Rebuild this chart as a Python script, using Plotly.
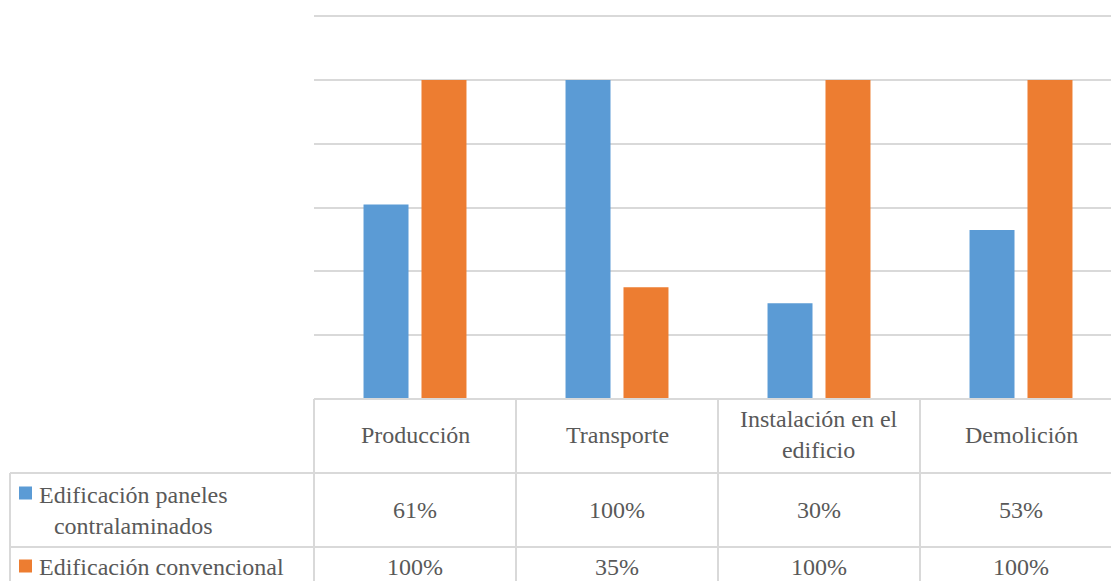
import plotly.graph_objects as go

categories = ["Producción", "Transporte", "Instalación en el<br>edificio", "Demolición"]
series_names = ["Edificación paneles<br>contralaminados", "Edificación convencional"]
paneles = [61, 100, 30, 53]
convencional = [100, 35, 100, 100]
colors = ["#5B9BD5", "#ED7D31"]

W, H = 1111, 581
L, B = 314, 182
YMAX_DATA = 120
YTOP = 121  # small headroom so the 120% gridline is drawn
px_per_unit = (H - B - 16) / YMAX_DATA
T = int(round(16 - (YTOP - YMAX_DATA) * px_per_unit))
plot_w = W - L
plot_h = H - T - B
cat_px = 202  # pixel width of one category column

FONT = "Liberation Serif"
TXT = "#595959"
GRID = "#D9D9D9"

def px_x(px):
    return (px - L) / plot_w

def px_y(py):
    return (H - B - py) / plot_h

def cat_edge_px(i):
    return L + i * cat_px

fig = go.Figure()
for name, vals, c in zip(series_names, [paneles, convencional], colors):
    fig.add_trace(go.Bar(x=list(range(len(categories))), y=vals, name=name,
                         marker=dict(color=c, line=dict(width=0)), showlegend=False))

xmax = -0.5 + plot_w / cat_px
fig.update_layout(
    width=W, height=H,
    margin=dict(l=L, r=0, t=T, b=B),
    paper_bgcolor="white", plot_bgcolor="white",
    barmode="group", bargap=0.426, bargroupgap=0.224,
    xaxis=dict(range=[-0.5, xmax], showticklabels=False, showgrid=False,
               zeroline=False, showline=False, ticks=""),
    yaxis=dict(range=[0, YTOP], tick0=0, dtick=20, showticklabels=False, showgrid=True,
               gridcolor=GRID, gridwidth=1.5, zeroline=False, showline=False, ticks=""),
    font=dict(family=FONT, color=TXT, size=24),
)

shapes = []
ann = []
lw = 2
row1_top, row2_top, bottom = 473, 547, 590
shapes.append(dict(type="line", xref="paper", yref="paper", x0=0, x1=1, y0=px_y(399), y1=px_y(399),
                   line=dict(color=GRID, width=lw)))
for yy in [row1_top, row2_top]:
    shapes.append(dict(type="line", xref="paper", yref="paper", x0=px_x(10), x1=1, y0=px_y(yy), y1=px_y(yy),
                       line=dict(color=GRID, width=lw)))
shapes.append(dict(type="line", xref="paper", yref="paper", x0=px_x(10), x1=px_x(10),
                   y0=px_y(row1_top), y1=px_y(bottom), line=dict(color=GRID, width=lw)))
for i in range(len(categories)):
    xx = cat_edge_px(i)
    shapes.append(dict(type="line", xref="paper", yref="paper", x0=px_x(xx), x1=px_x(xx),
                       y0=px_y(399), y1=px_y(bottom), line=dict(color=GRID, width=lw)))

for i, c in enumerate(categories):
    ann.append(dict(x=i, xref="x", y=px_y(435), yref="paper", text=c, showarrow=False,
                    xanchor="center", yanchor="middle", align="center"))
row_centers = [510, 567]
for r, vals in enumerate([paneles, convencional]):
    for i, v in enumerate(vals):
        ann.append(dict(x=i, xref="x", y=px_y(row_centers[r]), yref="paper", text=f"{v}%",
                        showarrow=False, xanchor="center", yanchor="middle"))
key_y = [493, 566]
for r, name in enumerate(series_names):
    shapes.append(dict(type="rect", xref="paper", yref="paper", x0=px_x(19), x1=px_x(32),
                       y0=px_y(key_y[r] - 6.5), y1=px_y(key_y[r] + 6.5),
                       fillcolor=colors[r], line=dict(width=0)))
    ann.append(dict(x=px_x(37), xref="paper", y=px_y(row_centers[r]), yref="paper", text=name,
                    showarrow=False, xanchor="left", yanchor="middle", align="center"))

fig.update_layout(shapes=shapes, annotations=ann)
fig.write_html("out.html")
